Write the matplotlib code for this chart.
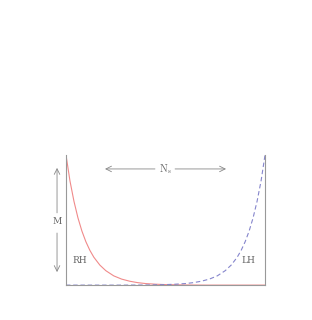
import matplotlib
matplotlib.use("Agg")
import matplotlib.pyplot as plt

# curve values (normalised height 0..1)
xs = [0.0, 0.02, 0.04, 0.06, 0.08, 0.10, 0.12, 0.14, 0.17, 0.20, 0.24,
      0.28, 0.32, 0.36, 0.40, 0.45, 0.50, 0.60, 0.70, 0.80, 1.0]
rh = [1.0, 0.80, 0.644, 0.517, 0.415, 0.333, 0.267, 0.214, 0.154, 0.111, 0.071,
      0.046, 0.030, 0.019, 0.012, 0.007, 0.004, 0.001, 0.0, 0.0, 0.0]
lh_x = [1.0 - v for v in xs][::-1]
lh = rh[::-1]

plt.rcParams['font.family'] = 'DejaVu Serif'
plt.rcParams['mathtext.fontset'] = 'cm'

fig = plt.figure(figsize=(3.12, 3.2), dpi=100)
ax = fig.add_axes([0.2115, 0.109, 0.638, 0.407])
ax.plot(xs, rh, color='#f08a8a', lw=0.8)
ax.plot(lh_x, lh, color='#8585cc', lw=0.8, ls=(0, (4, 2.5)))
ax.set_xlim(0, 1)
ax.set_ylim(0, 1)
ax.set_xticks([])
ax.set_yticks([])
ax.spines['top'].set_visible(False)
for s in ['left', 'right', 'bottom']:
    ax.spines[s].set_color('#999999')
    ax.spines[s].set_linewidth(0.8)

txt = '#666666'
arr = dict(arrowstyle='->', color='#888888', lw=0.6, shrinkA=0, shrinkB=0)
ax.annotate('', xy=(-0.045, 0.90), xytext=(-0.045, 0.555), xycoords='axes fraction',
            arrowprops=arr, annotation_clip=False)
ax.annotate('', xy=(-0.045, 0.10), xytext=(-0.045, 0.40), xycoords='axes fraction',
            arrowprops=arr, annotation_clip=False)
ax.text(-0.045, 0.49, 'M', transform=ax.transAxes, ha='center', va='center',
        fontsize=6.5, color=txt)
ax.annotate('', xy=(0.196, 0.892), xytext=(0.447, 0.892), xycoords='axes fraction',
            arrowprops=arr, annotation_clip=False)
ax.annotate('', xy=(0.804, 0.892), xytext=(0.548, 0.892), xycoords='axes fraction',
            arrowprops=arr, annotation_clip=False)
ax.text(0.5, 0.892, r'$\mathrm{N_s}$', transform=ax.transAxes, ha='center', va='center',
        fontsize=7.5, color=txt)
ax.text(0.068, 0.19, 'RH', transform=ax.transAxes, ha='center', va='center',
        fontsize=6.5, color=txt)
ax.text(0.917, 0.19, 'LH', transform=ax.transAxes, ha='center', va='center',
        fontsize=6.5, color=txt)

fig.savefig('out.png', dpi=100)
